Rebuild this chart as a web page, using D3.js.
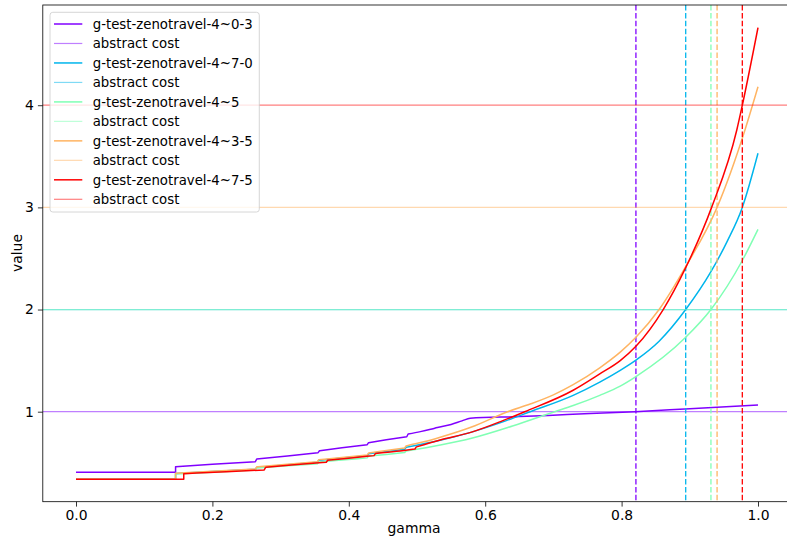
<!DOCTYPE html>
<html>
<head>
<meta charset="utf-8">
<script src="https://cdn.jsdelivr.net/npm/d3@7"></script>
<style>
  body { margin: 0; background: #fff; }
  text { font-family: "DejaVu Sans", sans-serif; }
</style>
</head>
<body>
<div id="vis"></div>
<script>
const WIDTH = 787;
const HEIGHT = 540;
const MARGINS = {left: 42.8, right: -7, top: 5, bottom: 38.3};

const NAMES = ["g-test-zenotravel-4~0-3", "g-test-zenotravel-4~7-0", "g-test-zenotravel-4~5",
               "g-test-zenotravel-4~3-5", "g-test-zenotravel-4~7-5"];
const COLORS = ["#8000ff", "#00b5ec", "#80ffb4", "#ffb462", "#ff0000"];
const ABSTRACT_COST = [1, 2, 2, 3, 4];
const CROSS_GAMMA = [0.821, 0.894, 0.931, 0.940, 0.977];

const X_TICKS = [0.0, 0.2, 0.4, 0.6, 0.8, 1.0];
const Y_TICKS = [1, 2, 3, 4];

// each curve: pieces of [gamma, value], a new piece after each jump
const VAL_0_3 = [
  [[0, 0.407], [0.146, 0.407]],
  [[0.146, 0.462], [0.2, 0.485], [0.263, 0.511]],
  [[0.265, 0.537], [0.31, 0.567], [0.355, 0.599]],
  [[0.357, 0.618], [0.39, 0.647], [0.427, 0.677]],
  [[0.429, 0.697], [0.455, 0.725], [0.485, 0.755]],
  [[0.487, 0.782], [0.505, 0.805], [0.52, 0.828], [0.53, 0.845], [0.55, 0.875], [0.566, 0.91],
   [0.578, 0.935], [0.65, 0.952], [0.72, 0.972], [0.82, 1.0], [0.9, 1.03], [1.0, 1.066]]
];
const VAL_7_0 = [
  [[0, 0.339], [0.146, 0.339]],
  [[0.146, 0.395], [0.2, 0.414], [0.263, 0.436]],
  [[0.265, 0.455], [0.31, 0.48], [0.354, 0.505]],
  [[0.356, 0.524], [0.39, 0.546], [0.427, 0.568]],
  [[0.429, 0.588], [0.455, 0.61], [0.482, 0.632]],
  [[0.484, 0.652], [0.534, 0.72], [0.58, 0.8], [0.63, 0.91], [0.666, 1.0], [0.729, 1.16],
   [0.768, 1.29], [0.798, 1.405], [0.821, 1.505], [0.855, 1.69], [0.894, 2.0], [0.931, 2.37],
   [0.955, 2.67], [0.977, 3.0], [1.0, 3.53]]
];
const VAL_5 = [
  [[0, 0.339], [0.146, 0.339]],
  [[0.146, 0.39], [0.2, 0.408], [0.263, 0.43]],
  [[0.265, 0.448], [0.31, 0.47], [0.354, 0.49]],
  [[0.356, 0.508], [0.39, 0.527], [0.427, 0.548]],
  [[0.429, 0.565], [0.455, 0.582], [0.482, 0.6]],
  [[0.484, 0.615], [0.534, 0.674], [0.58, 0.74], [0.64, 0.86], [0.702, 1.0], [0.729, 1.06],
   [0.768, 1.16], [0.798, 1.25], [0.821, 1.343], [0.894, 1.728], [0.931, 2.0], [0.977, 2.48],
   [1.0, 2.785]]
];
const VAL_3_5 = [
  [[0, 0.339], [0.146, 0.339]],
  [[0.146, 0.397], [0.2, 0.417], [0.263, 0.44]],
  [[0.265, 0.46], [0.31, 0.485], [0.354, 0.51]],
  [[0.356, 0.53], [0.39, 0.552], [0.427, 0.575]],
  [[0.429, 0.595], [0.455, 0.62], [0.482, 0.645]],
  [[0.484, 0.665], [0.51, 0.705], [0.534, 0.75], [0.58, 0.85], [0.633, 1.0], [0.666, 1.075],
   [0.7, 1.165], [0.729, 1.265], [0.768, 1.43], [0.798, 1.583], [0.821, 1.728], [0.855, 2.0],
   [0.894, 2.42], [0.94, 3.0], [0.981, 3.76], [1.0, 4.18]]
];
const VAL_7_5 = [
  [[0, 0.339], [0.158, 0.339]],
  [[0.158, 0.393], [0.22, 0.412], [0.276, 0.43]],
  [[0.278, 0.455], [0.32, 0.48], [0.367, 0.505]],
  [[0.369, 0.525], [0.4, 0.545], [0.437, 0.57]],
  [[0.439, 0.59], [0.47, 0.612], [0.497, 0.635]],
  [[0.499, 0.655], [0.534, 0.723], [0.58, 0.8], [0.625, 0.91], [0.658, 1.0], [0.729, 1.21],
   [0.768, 1.37], [0.798, 1.5], [0.821, 1.64], [0.861, 2.0], [0.894, 2.41], [0.932, 3.0],
   [0.969, 3.76], [0.977, 4.0], [1.0, 4.76]]
];
const SERIES = [VAL_0_3, VAL_7_0, VAL_5, VAL_3_5, VAL_7_5];

const VIS_WIDTH = WIDTH - MARGINS.left - MARGINS.right;
const VIS_HEIGHT = HEIGHT - MARGINS.top - MARGINS.bottom;

const FRAME = d3.select("#vis")
  .append("svg")
    .attr("width", WIDTH)
    .attr("height", HEIGHT);

const X_SCALE = d3.scaleLinear()
  .domain([-0.05, 1.05])
  .range([41.9, 792.1]);

const Y_SCALE = d3.scaleLinear()
  .domain([0.119, 4.981])
  .range([MARGINS.top + VIS_HEIGHT, MARGINS.top]);

FRAME.append("clipPath").attr("id", "clip")
  .append("rect")
    .attr("x", MARGINS.left).attr("y", MARGINS.top)
    .attr("width", VIS_WIDTH).attr("height", VIS_HEIGHT);

const PLOT = FRAME.append("g").attr("clip-path", "url(#clip)");

const LINE = d3.line()
  .x(d => X_SCALE(d[0]))
  .y(d => Y_SCALE(d[1]))
  .curve(d3.curveMonotoneX);

// join the pieces so each jump becomes a vertical step
function piecePath(pieces) {
  return pieces.map((p, i) => {
    const s = LINE(p);
    return i === 0 ? s : "L" + s.slice(1);
  }).join("");
}

SERIES.forEach((pieces, i) => {
  PLOT.append("path")
    .attr("d", piecePath(pieces))
    .attr("fill", "none")
    .attr("stroke", COLORS[i])
    .attr("stroke-width", 1.5)
    .attr("stroke-linejoin", "round");

  PLOT.append("line")
    .attr("x1", MARGINS.left).attr("x2", MARGINS.left + VIS_WIDTH)
    .attr("y1", Y_SCALE(ABSTRACT_COST[i])).attr("y2", Y_SCALE(ABSTRACT_COST[i]))
    .attr("stroke", COLORS[i])
    .attr("stroke-opacity", 0.5)
    .attr("stroke-width", 1.2);

  PLOT.append("line")
    .attr("x1", X_SCALE(CROSS_GAMMA[i])).attr("x2", X_SCALE(CROSS_GAMMA[i]))
    .attr("y1", MARGINS.top).attr("y2", MARGINS.top + VIS_HEIGHT)
    .attr("stroke", COLORS[i])
    .attr("stroke-width", 1.3)
    .attr("stroke-dasharray", "5.5,2.4");
});

const X_AXIS = d3.axisBottom(X_SCALE)
  .tickValues(X_TICKS)
  .tickFormat(d3.format(".1f"))
  .tickSizeOuter(0)
  .tickSize(4.9)
  .tickPadding(4);

const Y_AXIS = d3.axisLeft(Y_SCALE)
  .tickValues(Y_TICKS)
  .tickFormat(d3.format("d"))
  .tickSizeOuter(0)
  .tickSize(4.9)
  .tickPadding(4);

const gx = FRAME.append("g")
  .attr("transform", `translate(0,${MARGINS.top + VIS_HEIGHT})`)
  .call(X_AXIS);
const gy = FRAME.append("g")
  .attr("transform", `translate(${MARGINS.left},0)`)
  .call(Y_AXIS);

[gx, gy].forEach(g => {
  g.select(".domain").remove();
  g.selectAll(".tick line").attr("stroke", "#000").attr("stroke-width", 0.8);
  g.selectAll(".tick text")
    .attr("fill", "#000")
    .style("font-size", "13.9px")
    .style("font-family", "DejaVu Sans");
});

FRAME.append("rect")
  .attr("x", MARGINS.left).attr("y", MARGINS.top)
  .attr("width", VIS_WIDTH).attr("height", VIS_HEIGHT)
  .attr("fill", "none")
  .attr("stroke", "#000")
  .attr("stroke-width", 0.8);

FRAME.append("text")
  .attr("x", 414).attr("y", 533)
  .attr("text-anchor", "middle")
  .style("font-size", "13.9px")
  .text("gamma");

FRAME.append("text")
  .attr("transform", "translate(22,253) rotate(-90)")
  .attr("text-anchor", "middle")
  .style("font-size", "13.9px")
  .text("value");

// legend: one entry for each curve and one for its abstract cost
const LEGEND_ITEMS = [];
NAMES.forEach((n, i) => {
  LEGEND_ITEMS.push({label: n, color: COLORS[i], opacity: 1, width: 1.5});
  LEGEND_ITEMS.push({label: "abstract cost", color: COLORS[i], opacity: 0.5, width: 1.2});
});

const LEG = FRAME.append("g");
LEG.append("rect")
  .attr("x", 50).attr("y", 12.3)
  .attr("width", 209.3).attr("height", 199.7)
  .attr("rx", 2.8)
  .attr("fill", "#fff")
  .attr("fill-opacity", 0.8)
  .attr("stroke", "#cccccc")
  .attr("stroke-width", 0.8);

const ROW_Y = d3.scaleLinear().domain([0, 9]).range([24, 199.3]);

LEG.selectAll("line.item")
  .data(LEGEND_ITEMS)
  .enter()
  .append("line")
    .attr("x1", 54).attr("x2", 82.3)
    .attr("y1", (d, i) => ROW_Y(i)).attr("y2", (d, i) => ROW_Y(i))
    .attr("stroke", d => d.color)
    .attr("stroke-opacity", d => d.opacity)
    .attr("stroke-width", d => d.width);

LEG.selectAll("text.item")
  .data(LEGEND_ITEMS)
  .enter()
  .append("text")
    .attr("x", 92.7)
    .attr("y", (d, i) => ROW_Y(i))
    .attr("dy", "0.36em")
    .style("font-size", "13.3px")
    .attr("fill", "#000")
    .text(d => d.label);
</script>
</body>
</html>
